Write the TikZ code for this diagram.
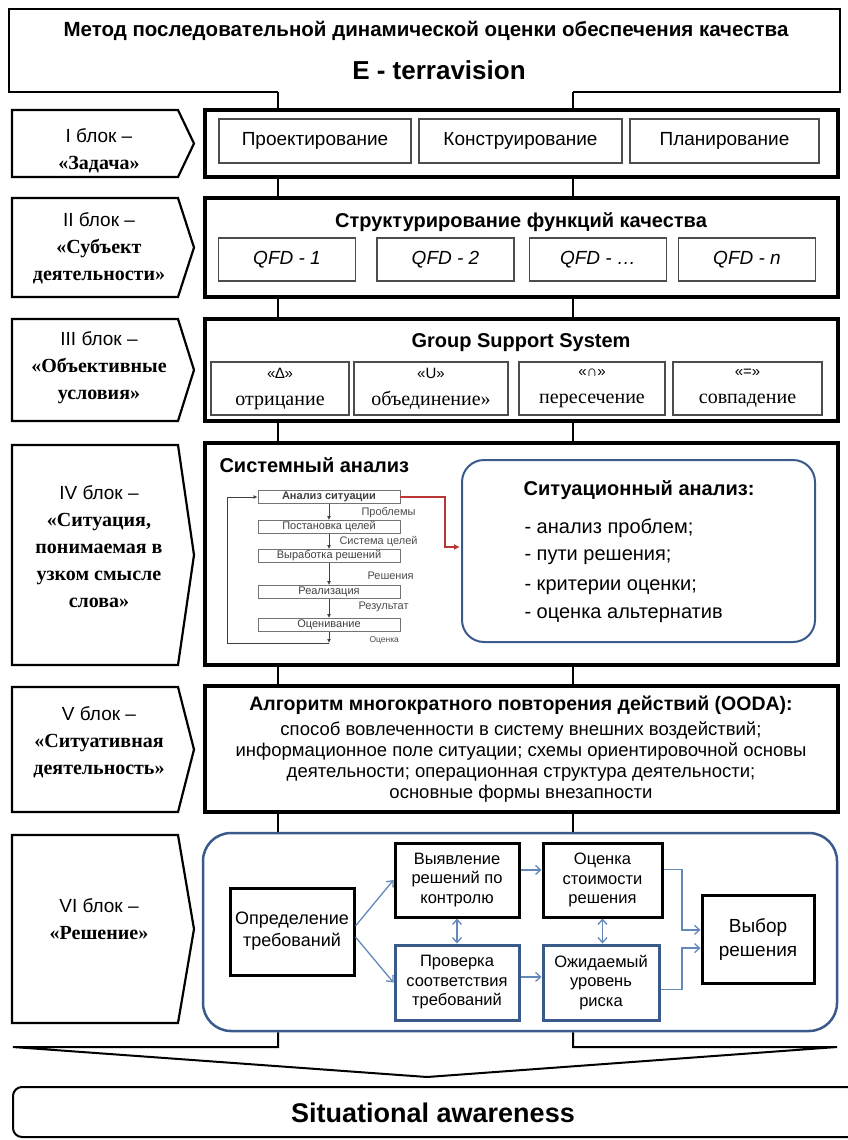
\documentclass[tikz,border=0pt]{standalone}
\usepackage{fontspec}
\setmainfont{Liberation Sans}
\newfontfamily\lbserif{Liberation Serif}
\newcommand\lbsb{\lbserif\bfseries\fontsize{20}{26}\selectfont}
\usetikzlibrary{arrows.meta}
\definecolor{frameblue}{RGB}{58,90,140}
\definecolor{arrowblue}{RGB}{100,136,186}
\definecolor{flowred}{RGB}{185,55,55}
\tikzset{
  conn/.style={line width=2},
  block/.style={draw,line width=3.5,minimum width=633,inner sep=0},
  cell/.style={draw=black!70,line width=1.3,inner sep=0,font=\fontsize{19}{22}\selectfont},
  lbl/.style={line width=2.2},
  lbltext/.style={align=center,font=\fontsize{19}{27}\selectfont},
  head/.style={font=\bfseries\fontsize{20}{24}\selectfont},
  flowbox/.style={draw=black!55,line width=.9,minimum width=142,minimum height=13,inner sep=0,text=black!75,font=\fontsize{11}{12}\selectfont},
  flowlbl/.style={anchor=west,text=black!70,font=\fontsize{11}{12}\selectfont},
  flowarr/.style={line width=.8,black!75,-{Latex[length=4,width=4]}},
  dbox/.style={draw,line width=3,inner sep=0,align=center,font=\fontsize{16.5}{19.5}\selectfont},
  varr/.style={arrowblue,line width=1.3,-{Straight Barb[length=5,width=9]}}
}
\begin{document}
\begin{tikzpicture}[x=1pt,y=-1pt]
\useasboundingbox (0,0) rectangle (848,1140);
\clip (0,0) rectangle (848,1140);
\coordinate (cl) at (278,0);
\coordinate (cr) at (573,0);
\node[minimum width=831,minimum height=83,inner sep=0] (top) at (424.5,50.5) {};
\node[font=\bfseries\fontsize{20.5}{24}\selectfont] (title) at (426,31) {Метод последовательной динамической оценки обеспечения качества};
\node[font=\bfseries\fontsize{26}{30}\selectfont] (etv) at (439,70) {E - terravision};
\node[block,minimum height=67] (b1) at (521.5,143.5) {};
\node[block,minimum height=99] (b2) at (521.5,247.5) {};
\node[block,minimum height=102] (b3) at (521.5,370) {};
\node[block,minimum height=222] (b4) at (521.5,554) {};
\node[block,minimum height=126] (b5) at (521.5,749) {};
\node[block,draw=frameblue,line width=2.5,rounded corners=28,minimum width=634,minimum height=198] (b6) at (520,932) {};
\foreach \t/\b in {110/177,198/297,319/421,445/665,687/812,835/1023}
  \draw[lbl] (12,\t) -- (178,\t) -- (194,{(\t+\b)/2}) -- (178,\b) -- (12,\b) -- cycle;
\node[lbltext] (l1) at (99,151) {I блок –\\\lbsb «Задача»};
\node[lbltext] (l2) at (99,248) {II блок –\\\lbsb «Субъект\\\lbsb деятельности»};
\node[lbltext] (l3) at (99,368) {III блок –\\\lbsb «Объективные\\\lbsb условия»};
\node[lbltext] (l4) at (99,547) {IV блок –\\\lbsb «Ситуация,\\\lbsb понимаемая в\\\lbsb узком смысле\\\lbsb слова»};
\node[lbltext] (l5) at (99,742) {V блок –\\\lbsb «Ситуативная\\\lbsb деятельность»};
\node[lbltext] (l6) at (99,919) {VI блок –\\\lbsb «Решение»};
\draw[conn] (top.south -| cl) -- (top.south west) -- (top.north west) -- (top.north east) -- (top.south east) -- (top.south -| cr);
\foreach \p/\q in {top/b1,b1/b2,b2/b3,b3/b4,b4/b5,b5/b6}
  \foreach \c in {cl,cr}
    \draw[conn] (\p.south -| \c) -- (\q.north -| \c);
\foreach \x/\w/\t [count=\i] in {315/192/Проектирование,520.5/203/Конструирование,724.5/189/Планирование}
  \node[cell,minimum width=\w,minimum height=44] (z\i) at (\x,141) {\t};
\node[head] (qt) at (521,222) {Структурирование функций качества};
\foreach \x/\t [count=\i] in {287/1,445.5/2,598/…,747/n}
  \node[cell,minimum width=137,minimum height=43,font=\itshape\fontsize{19}{22}\selectfont] (q\i) at (\x,259.5) {QFD - \t};
\node[head] (gt) at (521,343) {Group Support System};
\foreach \x/\w/\s/\t [count=\i] in {280/138/∆/отрицание,431/154/U/объединение»,592/146/∩/пересечение,747.5/149/=/совпадение}
  \node[cell,minimum width=\w,minimum height=53,align=center,font=\fontsize{15}{27}\selectfont] (g\i) at (\x,388.5) {«\s»\\\lbserif\fontsize{20}{27}\selectfont \t};
\node[head,anchor=west] (sysa) at (216,465) {Системный анализ};
\foreach \y/\t [count=\i] in {497/{\bfseries Анализ ситуации},527/Постановка целей,556/Выработка решений,592/Реализация,625/Оценивание}
  \node[flowbox] (f\i) at (329,\y) {\t};
\foreach \i/\j in {1/2,2/3,3/4,4/5}
  \draw[flowarr] (f\i) -- (f\j);
\coordinate (fb) at (329,643);
\coordinate (fl) at (227,643);
\draw[flowarr] (f5) -- (fb);
\draw[flowarr] (fb) -- (fl) |- (f1.west);
\node[flowlbl] (p1) at (358,513) {Проблемы};
\node[flowlbl] (p2) at (336,542) {Система целей};
\node[flowlbl] (p3) at (364,576) {Решения};
\node[flowlbl] (p4) at (355,607) {Результат};
\node[flowlbl,font=\fontsize{8.5}{10}\selectfont] (p5) at (366,640) {Оценка};
\coordinate (rc) at (445,547);
\coordinate (rt) at (460,547);
\draw[flowred,line width=2,-{Latex[length=6,width=6]}] (f1.east) -| (rc) -- (rt);
\node[draw=frameblue,line width=2,rounded corners=22,minimum width=353,minimum height=182,inner sep=0] (sit) at (638.5,551) {};
\node[head] (st) at (639,490) {Ситуационный анализ:};
\foreach \y/\t [count=\i] in {528/анализ проблем;,557/пути решения;,587/критерии оценки;,615/оценка альтернатив}
  \node[anchor=west,font=\fontsize{20}{24}\selectfont] (s\i) at (521,\y) {- \t};
\node[font=\bfseries\fontsize{19.5}{24}\selectfont] (ooda) at (521,705) {Алгоритм многократного повторения действий (OODA):};
\node[align=center,font=\fontsize{18.5}{20.7}\selectfont] (oot) at (521,762) {способ вовлеченности в систему внешних воздействий;\\информационное поле ситуации; схемы ориентировочной основы\\деятельности; операционная структура деятельности;\\основные формы внезапности};
\node[dbox,minimum width=124,minimum height=87,font=\fontsize{18}{22}\selectfont] (opr) at (292,931.5) {Определение\\требований};
\node[dbox,minimum width=124,minimum height=74] (vyav) at (457,880) {Выявление\\решений по\\контролю};
\node[dbox,minimum width=119,minimum height=74] (ocen) at (602.5,880) {Оценка\\стоимости\\решения};
\node[dbox,draw=frameblue,minimum width=124,minimum height=75] (prov) at (457,982.5) {Проверка\\соответствия\\требований};
\node[dbox,draw=frameblue,minimum width=116,minimum height=75] (ozh) at (601,982.5) {Ожидаемый\\уровень\\риска};
\node[dbox,minimum width=112,minimum height=88,font=\fontsize{19}{24}\selectfont] (vyb) at (758,939) {Выбор\\решения};
\coordinate (jx) at (682,0);
\draw[varr] (opr.5) -- (vyav.west);
\draw[varr] (opr.-5) -- (prov.west);
\draw[varr] (vyav.9) -- (vyav.9 -| ocen.west);
\draw[varr] (prov.5) -- (prov.5 -| ozh.west);
\draw[varr,{Straight Barb[length=5,width=9]}-{Straight Barb[length=5,width=9]}] (vyav.south) -- (prov.north);
\draw[varr,{Straight Barb[length=5,width=9]}-{Straight Barb[length=5,width=9]}] (ocen.south) -- (ocen.south |- ozh.north);
\draw[varr] (ocen.10) -- (ocen.10 -| jx) |- (vyb.171);
\draw[varr] (ozh.-7) -- (ozh.-7 -| jx) |- (vyb.-171);
\coordinate (vl) at (13,1047);
\coordinate (vt) at (427,1077);
\coordinate (vr) at (837,1047);
\draw[conn] (b6.south -| cl) -- (vl -| cl) -- (vl) -- (vt) -- (vr) -- (vr -| cr) -- (b6.south -| cr);
\draw[conn,rounded corners=9] (860,1087) -- (13,1087) -- (13,1137) -- (860,1137);
\node[font=\bfseries\fontsize{27}{30}\selectfont] (sa) at (433,1113) {Situational awareness};
\end{tikzpicture}
\end{document}
